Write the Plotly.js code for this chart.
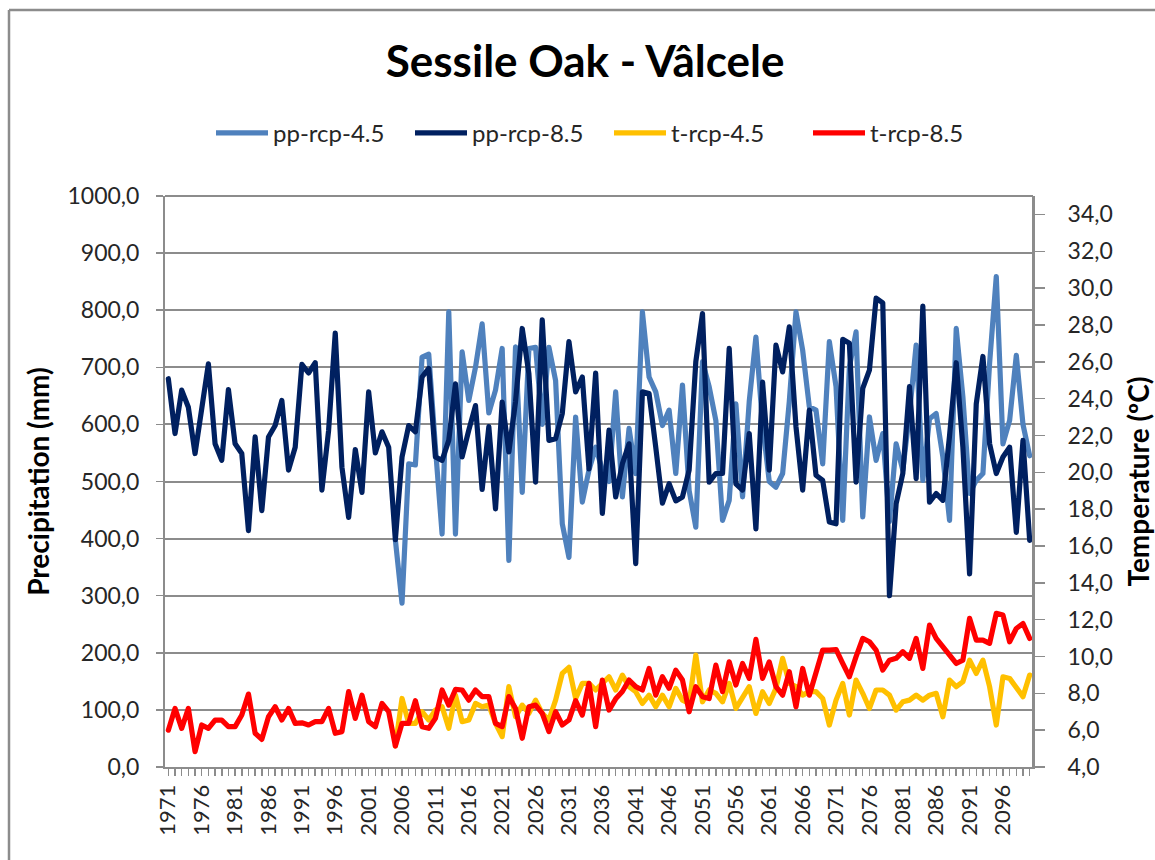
<!DOCTYPE html>
<html>
<head>
<meta charset="utf-8">
<script src="https://cdn.plot.ly/plotly-3.0.1.min.js"></script>
<style>
html,body{margin:0;padding:0;background:#fff;}
#chart{width:1155px;height:860px;}
.scatterlayer path.js-line{stroke-linejoin:round;stroke-linecap:round;}
</style>
</head>
<body>
<div id="chart"></div>
<script>
// Categories (years)
const years = [1971,1972,1973,1974,1975,1976,1977,1978,1979,1980,
1981,1982,1983,1984,1985,1986,1987,1988,1989,1990,
1991,1992,1993,1994,1995,1996,1997,1998,1999,2000,
2001,2002,2003,2004,2005,2006,2007,2008,2009,2010,
2011,2012,2013,2014,2015,2016,2017,2018,2019,2020,
2021,2022,2023,2024,2025,2026,2027,2028,2029,2030,
2031,2032,2033,2034,2035,2036,2037,2038,2039,2040,
2041,2042,2043,2044,2045,2046,2047,2048,2049,2050,
2051,2052,2053,2054,2055,2056,2057,2058,2059,2060,
2061,2062,2063,2064,2065,2066,2067,2068,2069,2070,
2071,2072,2073,2074,2075,2076,2077,2078,2079,2080,
2081,2082,2083,2084,2085,2086,2087,2088,2089,2090,
2091,2092,2093,2094,2095,2096,2097,2098,2099,2100];

// Years of the scenario series (rcp-4.5 diverges from 2005 on)
const years45 = [2005,2006,2007,2008,2009,2010,
2011,2012,2013,2014,2015,2016,2017,2018,2019,2020,
2021,2022,2023,2024,2025,2026,2027,2028,2029,2030,
2031,2032,2033,2034,2035,2036,2037,2038,2039,2040,
2041,2042,2043,2044,2045,2046,2047,2048,2049,2050,
2051,2052,2053,2054,2055,2056,2057,2058,2059,2060,
2061,2062,2063,2064,2065,2066,2067,2068,2069,2070,
2071,2072,2073,2074,2075,2076,2077,2078,2079,2080,
2081,2082,2083,2084,2085,2086,2087,2088,2089,2090,
2091,2092,2093,2094,2095,2096,2097,2098,2099,2100];

// Precipitation (mm), rcp-8.5, 1971-2100
const pp85 = [680,584,660,630,549,630,706,566,537,661,
566,549,414,578,449,578,598,642,520,560,
705,690,708,485,589,760,525,437,556,481,
657,550,587,560,398,543,598,587,683,698,
543,537,572,671,543,590,633,486,596,452,
639,552,640,768,689,499,783,572,575,619,
745,657,683,522,690,444,590,473,531,566,
356,657,654,560,462,496,466,473,520,710,
794,499,514,514,733,496,485,584,417,674,
520,739,692,771,596,485,625,511,502,429,
426,749,742,499,663,695,821,813,300,461,
514,666,505,807,464,479,467,580,708,560,
338,636,719,566,514,543,560,411,572,397];

// Precipitation (mm), rcp-4.5, 2005-2100
const pp45 = [398,287,531,529,718,723,
560,408,797,408,727,642,700,776,620,660,
733,362,736,481,733,735,600,735,677,426,
367,613,464,520,560,520,500,657,473,593,
514,797,683,657,598,625,514,669,484,420,
710,666,607,432,467,636,473,640,753,600,
500,490,514,640,797,730,631,625,531,745,
666,432,700,762,438,613,537,584,430,566,
520,619,739,502,610,619,543,432,768,648,
479,502,514,707,859,566,607,721,600,545];

// Temperature (ºC), rcp-8.5, 1971-2100
const t85 = [6.0,7.18,6.1,7.18,4.83,6.28,6.1,6.55,6.55,6.19,
6.19,6.82,7.96,5.83,5.5,6.73,7.27,6.55,7.18,6.37,
6.4,6.28,6.46,6.46,7.18,5.83,5.92,8.09,6.64,7.9,
6.46,6.19,7.45,7.0,5.14,6.37,6.37,7.6,6.19,6.1,
6.64,8.18,7.36,8.21,8.18,7.63,8.18,7.82,7.82,6.37,
6.19,7.82,7.18,5.56,7.27,7.36,6.91,5.92,7.0,6.28,
6.55,7.6,6.82,8.54,6.19,8.72,7.09,7.7,8.1,8.72,
8.36,8.18,9.35,7.9,8.9,8.27,9.26,8.72,7.0,8.36,
7.82,7.72,9.53,8.09,9.71,8.45,9.62,8.81,10.93,8.81,
9.71,8.36,7.9,9.17,7.27,9.35,7.9,9.26,10.35,10.35,
10.38,9.62,8.9,9.99,10.98,10.8,10.35,9.26,9.8,9.9,
10.26,9.9,10.98,9.35,11.7,10.98,10.53,10.08,9.62,9.8,
12.07,10.89,10.89,10.71,12.34,12.25,10.8,11.52,11.79,10.98];

// Temperature (ºC), rcp-4.5, 2005-2100
const t45 = [5.14,7.72,6.37,6.37,7.0,6.55,
7.09,7.27,6.1,7.9,6.46,6.55,7.45,7.27,7.36,6.37,
5.65,8.36,6.73,7.36,6.91,7.63,6.91,6.55,7.63,9.08,
9.41,7.72,8.54,8.54,8.18,8.5,8.9,8.18,8.99,8.36,
8.09,7.45,7.9,7.27,7.9,7.27,8.27,7.63,7.45,10.08,
7.54,8.18,8.0,7.54,8.54,7.18,7.82,8.36,6.91,8.09,
7.45,8.27,9.9,8.54,8.36,7.9,8.09,8.09,7.72,6.28,
7.63,8.54,6.82,8.72,8.0,7.18,8.18,8.18,7.9,7.09,
7.54,7.63,7.9,7.63,7.9,8.0,6.73,8.72,8.36,8.63,
9.8,9.08,9.8,8.36,6.28,8.9,8.81,8.36,7.82,8.99];

const seriesNames = ['pp-rcp-4.5','pp-rcp-8.5','t-rcp-4.5','t-rcp-8.5'];
const seriesColors = ['#4F81BD','#002060','#FFC000','#FF0000'];

// tick labels every 5 years starting 1971
const tickText = years.map((y, i) => (i % 5 === 0 ? String(y) : ''));

const lineW = 5.2;
const traces = [
  {x: years45, y: pp45, name: seriesNames[0], type: 'scatter', mode: 'lines',
   line: {color: seriesColors[0], width: lineW}, yaxis: 'y'},
  {x: years, y: pp85, name: seriesNames[1], type: 'scatter', mode: 'lines',
   line: {color: seriesColors[1], width: lineW}, yaxis: 'y'},
  {x: years45, y: t45, name: seriesNames[2], type: 'scatter', mode: 'lines',
   line: {color: seriesColors[2], width: lineW}, yaxis: 'y2'},
  {x: years, y: t85, name: seriesNames[3], type: 'scatter', mode: 'lines',
   line: {color: seriesColors[3], width: lineW}, yaxis: 'y2'}
];

const axisGray = '#8c8c8c';
const txt = '#262626';
const fam = 'Lato, "Open Sans", sans-serif';

const layout = {
  width: 1155, height: 860,
  paper_bgcolor: '#ffffff', plot_bgcolor: '#ffffff',
  separators: ',.',
  font: {family: fam, color: txt, size: 20},
  margin: {l: 165, r: 122, t: 196, b: 93, pad: 0},
  title: {text: '<b>Sessile Oak - Vâlcele</b>', font: {family: fam, size: 44, color: '#000'},
          x: 0.484, xref: 'paper', xanchor: 'center', y: 0.928, yref: 'container', yanchor: 'middle'},
  showlegend: true,
  legend: {orientation: 'h', x: 0.053, xanchor: 'left', y: 1.11, yanchor: 'middle',
           font: {family: fam, size: 24, color: txt}, itemwidth: 52, traceorder: 'normal',
           entrywidth: 132, entrywidthmode: 'pixels',
           bgcolor: 'rgba(0,0,0,0)'},
  xaxis: {
    type: 'linear', range: [1970.5, 2100.5], tickmode: 'array', tickvals: years, ticktext: tickText,
    tickangle: -90, tickfont: {family: fam, size: 22, color: txt},
    ticks: 'outside', ticklen: 7, tickcolor: axisGray, tickwidth: 1.5,
    showline: true, linecolor: axisGray, linewidth: 2, showgrid: false, zeroline: false,
    fixedrange: true
  },
  yaxis: {
    range: [0, 1000], dtick: 100, tick0: 0, tickformat: '.1f',
    tickfont: {family: fam, size: 23, color: txt}, ticklabelstandoff: 12,
    ticks: 'outside', ticklen: 7, tickcolor: axisGray, tickwidth: 1.5,
    showline: true, linecolor: axisGray, linewidth: 2,
    showgrid: true, gridcolor: axisGray, gridwidth: 2, zeroline: false,
    title: {text: '<b>Precipitation (mm)</b>', font: {family: fam, size: 28, color: '#000'}, standoff: 10}
  },
  yaxis2: {
    overlaying: 'y', side: 'right', range: [4, 35], dtick: 2, tick0: 4, tickformat: '.1f',
    tickfont: {family: fam, size: 23, color: txt}, ticklabelstandoff: 18,
    ticks: 'outside', ticklen: 10, tickcolor: axisGray, tickwidth: 1.5,
    showline: true, linecolor: axisGray, linewidth: 2, showgrid: false, zeroline: false,
    title: {text: '<b>Temperature (ºC)</b>', font: {family: fam, size: 28, color: '#000'}, standoff: 22}
  },
  shapes: [
    {type: 'line', xref: 'paper', yref: 'paper', x0: 1, x1: 1, y0: 0, y1: 1,
     line: {color: axisGray, width: 2}},
    {type: 'line', xref: 'paper', yref: 'paper', x0: 0, x1: 1, y0: 1, y1: 1,
     line: {color: axisGray, width: 2}},
    // outer chart frame (top and left edges)
    {type: 'line', xref: 'paper', yref: 'paper', x0: (9-165)/868, x1: 1.2, y0: (767-10)/571, y1: (767-10)/571,
     line: {color: axisGray, width: 2.5}},
    {type: 'line', xref: 'paper', yref: 'paper', x0: (9-165)/868, x1: (9-165)/868, y0: -0.2, y1: (767-10)/571,
     line: {color: axisGray, width: 2.5}}
  ]
};

Plotly.newPlot('chart', traces, layout, {displayModeBar: false, staticPlot: true});
</script>
</body>
</html>
